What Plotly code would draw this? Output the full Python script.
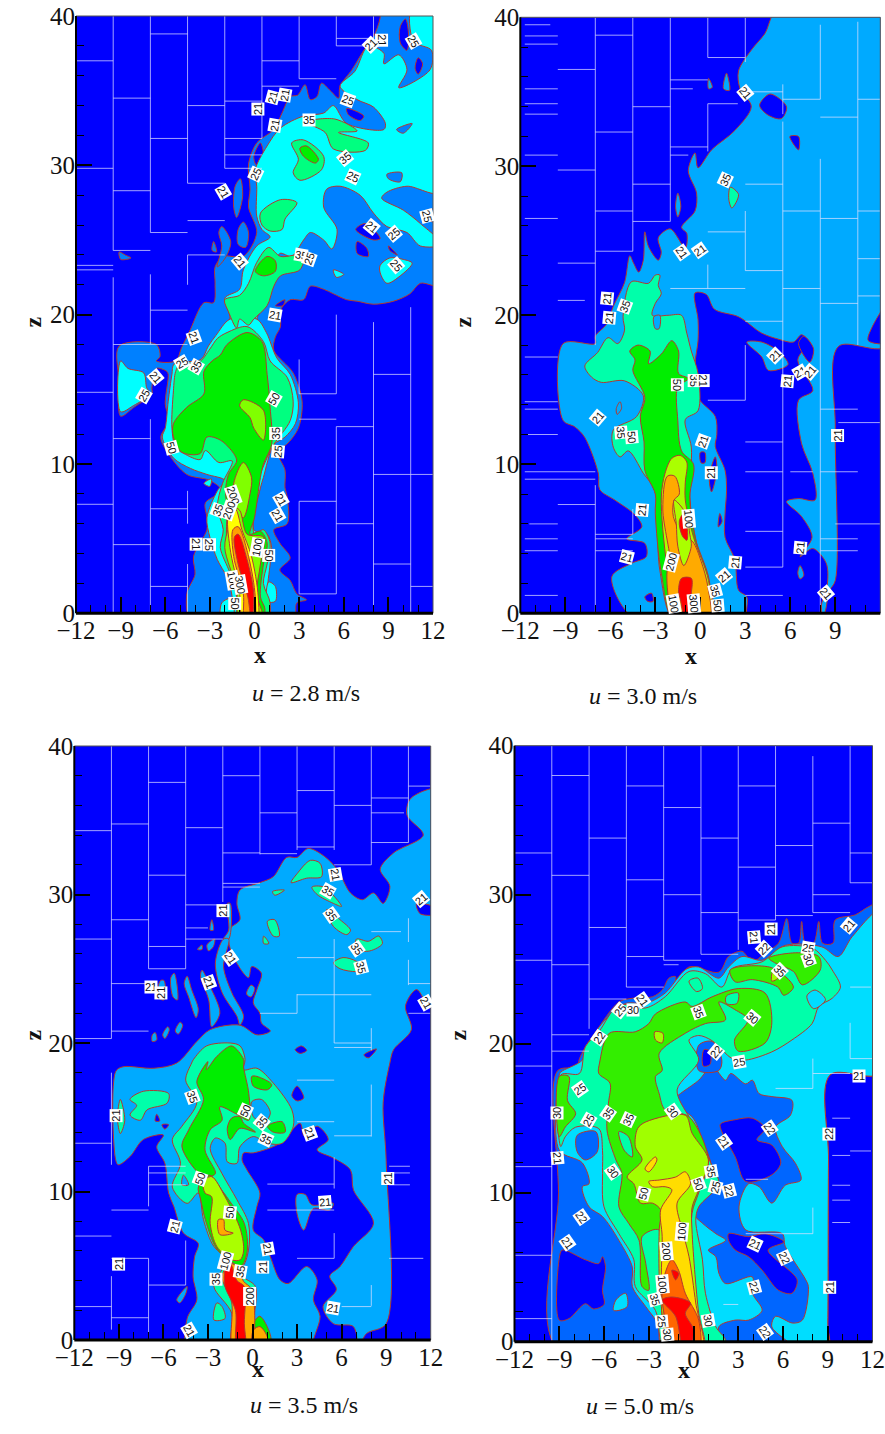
import plotly.graph_objects as go

W, H = 885, 1434
BLUE = "#0000FF"; LINE = "#B2382E"

# ---------- panel 1: u = 2.8 m/s ----------
P1_AZ_MAIN = [(-4.2,0),(-4.55,1.3),(-4,2.6),(-4.1,3.8),(-3.2,5.6),(-3.2,6.4),(-3.3,7.4),(-2.2,8.2),(-3,8.9),(-4.55,9.3),(-5.8,10.7),(-6.3,11.8),(-5.75,12.9),(-6,14),(-5.8,16),(-5.9,16.2),(-6.6,16.4),(-6.9,15.1),(-6.9,14.7),(-8.1,13.8),(-9,13.2),(-9.1,15.5),(-9.1,17.9),(-6.6,18),(-6.35,17.2),(-6.6,16.9),(-5.3,16.9),(-4.9,17.8),(-4.4,18.8),(-3.4,20.8),(-2.75,20.8),(-2.65,22.1),(-2.65,23.2),(-2.1,23.9),(-0.75,23.9),(0.15,25.5),(-0.4,27.2),(-0.3,28.4),(-0.4,30.1),(0.15,31.5),(1.3,32.4),(1.85,33.5),(2.4,34.6),(2.9,34.7),(3.4,35.4),(3.75,34.4),(4.2,34.6),(4.5,35.5),(5.1,35),(5.65,34.5),(5.75,35.3),(6.55,36.4),(7.35,37.7),(8,38.6),(8.45,39.9),(8.45,40),(12,40),(12,22),(11.15,22.1),(10.45,21.4),(9.35,20.9),(8,20.7),(6.9,20.9),(6.2,21),(5.3,21.4),(4.65,21.7),(3.75,21.9),(3.3,21),(2.4,21),(1.75,20.3),(1.75,19.2),(1.4,18.5),(1.3,17.6),(2.6,16.1),(3.2,14.2),(2.95,12.4),(2.15,11.3),(1.5,10.9),(2.05,9.6),(2.05,8.4),(2.2,7.8),(2.2,6),(1.3,5.6),(1.7,4.7),(2.4,3.7),(1.7,2.9),(2.4,2.2),(2.85,1.3),(3.5,0.9),(2.85,0.7),(2.6,0)]
P1_AZ_BITS = [
 [(-0.95,29.1),(-0.8,27.9),(-1.2,26.5),(-1.4,27.2),(-1.3,28.6)],
 [(-0.75,26.2),(-0.4,25.5),(-0.6,24.5),(-1.1,24.7),(-1.1,25.7)],
 [(-2.2,25.9),(-1.6,24.9),(-1.9,23.9),(-2.5,23.2),(-2.2,24.6),(-2.4,25.5)],
 [(-2.75,24.9),(-2.55,24.2),(-2.85,24.3)],
 [(-9.1,24.2),(-8.7,24),(-8.3,23.8),(-9,23.7)],
]
P1_HOLES = [
 [(0.4,31.5),(0.6,30.4),(0.15,30),(-0.05,30.6)],
 [(6.2,33.8),(7.35,33.3),(7.1,33),(6.3,33.4)],
 [(9.8,39.3),(10.15,39.8),(10.35,38.85),(10.25,37.7),(9.8,38.2)],
 [(11,37.2),(11.3,36.8),(11,36.1),(10.8,36.5)],
 [(6.8,25.7),(7.45,26.1),(8.45,25.1),(8,25)],
 [(6.9,24.9),(7.55,24.45),(7.65,23.9),(6.9,24.1)],
 [(9,24.6),(9.6,24),(9.1,24.3)],
 [(1.4,20.6),(2.05,21),(1.9,20.6)],
 [(1.4,24.9),(1.9,25),(2.3,25.2),(2.2,24.4),(1.7,24.4)],
]
P1_CYAN_TOP = [(-2.5,18.6),(-1.65,19.7),(-2,21.1),(-1,21.7),(-0.75,23),(0.15,24.6),(1.05,25.2),(0.5,25.7),(0.15,26.6),(0.15,28.6),(0.05,29.7),(0.85,31.3),(1.75,32.5),(3.3,33.3),(4.65,33.5),(5.3,34),(6.2,32.8),(8.7,32.4),(8.8,32.8),(8,33.9),(6.9,34.4),(5.75,35.3),(6.75,36.3),(7.65,38),(8.7,37.5),(8.7,36.8),(9.7,37.4),(10.25,36.4),(9.7,35.2),(11.8,36.4),(11.9,37.7),(10.7,38.3),(10.6,40),(12,40),(12,28.2),(10.25,28.6),(8.9,28.2),(8.55,27.8),(10,27),(11.15,26.1),(12,24.7),(11.15,24.6),(10.25,25.5),(8.9,25.9),(8,26.8),(7.1,28),(5.75,28.6),(4.85,28.4),(4.65,27.2),(5.55,25.7),(5.2,24.4),(4.65,25),(3.75,25.5),(3.3,25),(2.5,23.9),(1.7,24.1),(1.3,22.6),(0.5,21.4),(0.15,19.7),(-0.5,18.8)]
P1_CYAN_LOW = [(-1.5,0),(-1.5,1.1),(-1.85,2.4),(-2.5,3.6),(-3,5.1),(-3.2,6.4),(-2.5,8.2),(-2,8.9),(-3.2,9.3),(-4.3,9.7),(-5.45,10.4),(-6.2,11.8),(-6,12.4),(-5.8,14.2),(-5.55,16),(-5.4,16.7),(-3.6,17),(-3.1,17.9),(-2.6,18.6),(-1.65,19.7),(0.15,19.7),(0.8,18.8),(1.5,17.1),(2.4,16),(2.95,14.1),(2.75,12.7),(2.05,11.8),(1.3,11.3),(0.6,9.1),(0.4,8.4),(-0.05,5.6),(0.85,5.3),(1.15,4.4),(1.05,3.3),(0.85,1.3),(1,0)]
P1_CYAN_BITS = [
 [(-9,16.9),(-8.5,16.4),(-7.45,16.1),(-7.25,15.1),(-7,14.7),(-8.15,13.9),(-9,13.5)],
 [(8.45,23.3),(9.1,23.8),(10,23.7),(10.6,23.45),(9.8,22.6),(8.9,22.1),(8.45,22.8)],
 [(5.3,23),(6,22.7),(5.5,22.5)],
 [(-2.2,0.7),(-1.5,1),(-1.5,0),(-2.2,0)],
 [(0.95,2.1),(1.4,1.8),(1.4,0.8),(0.85,0.8)],
 [(-3.4,8.7),(-2.9,9),(-3,8.5)],
]
P1_AZ_PATCH = [
 [(8.9,29.4),(9.9,29.5),(9.8,28.9),(9,29.1)],
 [(9.55,32.4),(10.6,32.8),(10,32.15)],
 [(11.4,26.9),(12,27),(12,26.1),(11.6,26.4)],
]
P1_SP = [
 [(3.5,32.9),(5.4,33.1),(6.9,32.3),(5.65,32.2),(7.65,31.5),(7.45,31),(5.3,31.1),(4.75,32.2)],
 [(2.5,31.5),(3.3,31.7),(4.65,30.6),(4.5,29.7),(3.05,29),(2.6,29.5),(2.95,30.4)],
 [(0.4,26.8),(1.75,27.7),(2.85,27.5),(2.05,26.4),(1.85,25.7),(1.05,25.6),(0.5,26)],
 [(-2,21),(-1,21.3),(-0.4,22.1),(0.15,23.5),(0.95,24.5),(1.75,23.9),(3.3,24),(3.05,23),(1.75,22.6),(1.3,21.9),(0.85,20.6),(-0.05,19.7),(-0.4,19.3),(-1,19.7),(-1.2,19.1),(-1.75,20.2)],
 [(-1,0),(-1.2,1.1),(-1.65,2.7),(-2.3,4.4),(-2.1,5.6),(-2.5,7.1),(-2.15,8.7),(-1.5,10.2),(-2.4,10.1),(-3.3,10.9),(-3.65,10.3),(-4.75,10.7),(-5.3,11.1),(-5.55,12.4),(-5.45,14.9),(-5.3,16.2),(-5,16.7),(-3.75,16.8),(-3,17.7),(-2.5,18.4),(-1.85,18.8),(-0.5,19.2),(0.6,18.2),(1.05,16.9),(2.2,15.8),(2.6,14.2),(2.4,12.9),(1.3,11.3),(0.5,9.6),(0.15,8.4),(0,5.3),(0.6,5.6),(1.05,4.7),(0.85,3.3),(0.6,2),(1.05,0.7),(0.85,0)],
]
P1_GR = [
 [(3.05,31.15),(3.5,31.3),(4.3,30.4),(4.1,30.15),(3.3,30.6)],
 [(0.05,22.9),(0.85,23.9),(1.4,23.6),(1.4,22.9),(0.6,22.6)],
 [(-0.4,0),(-1.2,2.2),(-1.85,4.4),(-1.85,7.1),(-1.95,8.2),(-1.75,9.3),(-1.2,10.2),(-1.4,10.7),(-2.3,11.6),(-3.2,11.8),(-3.65,10.7),(-4.9,10.8),(-5.45,11.8),(-5.45,12.7),(-4.55,13.8),(-3.4,14.7),(-3.4,16.2),(-2.85,16.9),(-2.3,17.3),(-1.85,18),(-0.5,18.8),(0.5,18.2),(0.85,16),(1.05,13.8),(1.15,11.3),(0.6,10),(0.4,9.1),(0,6.4),(-0.3,5.3),(0.4,5.5),(0.85,4.7),(0.6,3.3),(0.4,1.1),(0.7,0.3),(0.5,0)],
]
P1_LIME = [
 [(-1,13.9),(-0.75,14.3),(0.6,13.6),(0.6,11.6),(-0.05,12.4),(-0.3,13.1)],
 [(-0.75,10.1),(-0.2,9.1),(-0.3,8),(-0.75,6.4),(-1.3,7.3),(-1.4,8.7)],
 [(-1.45,7.1),(-1,6.9),(-0.5,5.3),(0.6,5.1),(0.4,3.3),(0.15,1.3),(0.6,0),(-1,0),(-1.2,1.6),(-2,4.4),(-1.75,5.8)],
]
P1_YEL = [[(-1.75,6.6),(-1.3,7),(-0.85,5.6),(-0.2,3.8),(0.25,1.1),(0.15,0),(-0.75,0),(-1,1.3),(-1.65,4.4)]]
P1_ORA = [[(-1.45,5.6),(-1.1,5.8),(-0.4,3.8),(0.05,1.1),(-0.05,0),(-0.65,0),(-0.75,1.3),(-1.4,3.8)]]
P1_RED = [[(-1.35,5.1),(-1.1,5.3),(-0.5,3.6),(-0.05,1.3),(-0.2,0),(-0.45,1.1),(-1.1,3.3)]]

# ---------- panel 2: u = 3.0 m/s ----------
P2_AZ_MAIN = [(-4.15,0),(-5.9,2.45),(-4.6,3.35),(-3.6,3.8),(-3.7,4.7),(-4.9,5),(-3.9,5.8),(-4.35,6.6),(-5.7,7.6),(-6.7,8.3),(-6.8,9.4),(-7.7,11.8),(-8.35,12.5),(-9.15,12.95),(-9.15,18.1),(-7,18.1),(-7,18.6),(-6.25,19.4),(-5.8,20.6),(-5.05,22.2),(-4.7,24),(-4.45,23.5),(-4.1,22.9),(-3.8,23.7),(-3.7,25.6),(-3.45,24.6),(-2.8,23.7),(-2.6,24.2),(-2.8,25.2),(-2,25.8),(-1,24.5),(-0.9,25.5),(-1.25,25.9),(-0.35,27),(-0.25,28.2),(-0.8,29.7),(-0.35,30.9),(-0.15,29.9),(0.75,31.1),(2.3,32.4),(3.4,34),(2.65,35.2),(2.55,36.4),(3.4,37.8),(4.3,38.9),(5.2,40),(12,40),(12,18),(9.2,17.9),(9,12.3),(9,2.2),(8.6,1.5),(7.9,0)]
P2_HOLES = [
 [(-0.35,21.5),(0.4,21.4),(0.95,20.4),(2.55,19.9),(4.1,18.8),(5.2,18.4),(6.2,18.2),(6.75,18.7),(7.2,18.2),(6.5,17),(7.5,14.95),(6.55,14.3),(6.75,11.4),(7.5,9.4),(7.65,7.6),(6.55,7.7),(5.75,7.5),(6.75,6.5),(7.45,5.1),(6.65,3.8),(7.5,4.35),(8.4,3.35),(8.45,1.8),(8.1,0.7),(7.9,0),(3.2,0),(3.1,1.1),(2.55,1.55),(2.3,3.6),(1.65,5.1),(1.65,6.7),(1.75,8.25),(1.65,9.6),(1,11.2),(1.1,12),(1,13.2),(-0.15,14.5),(-0.35,16.7),(-0.15,18.3),(-0.15,19.7)],
 [(3.95,34.1),(4.65,34.85),(5.75,34),(5.4,33.2),(4.5,33.45)],
 [(5.97,32),(6.55,32),(6.55,31.1)],
 [(12,20.9),(11.45,19.2),(11.2,18.3),(12,18.2)],
 [(6.55,18.1),(6.9,18.6),(7.55,17.75),(7.3,16.85)],
 [(1.3,6.7),(1.45,6.15),(1.2,5.8)],
 [(0,10.8),(0.3,10.8),(0.3,10.1),(0.05,10.1)],
 [(1,10.5),(1.1,9.6),(0.75,8.15),(0.6,9.15)],
 [(-3.7,1.1),(-3.25,1.35),(-3.15,0.8),(-3.5,0.8)],
]
P2_AZ_ISLES = [
 [(3.1,18.2),(4.1,18.2),(5.2,17.6),(5.85,16.7),(4.55,16.3),(4.1,17.2)],
 [(6.65,3.2),(6.9,2.55),(6.65,2.3),(6.5,2.7)],
 [(0.55,35.9),(0.8,35.3),(0.55,35.2)],
 [(1.75,36.25),(1.95,35.1),(1.55,35.2)],
 [(-1.5,28.2),(-1.3,27.3),(-1.5,26.6),(-1.65,27.3)],
]
P2_SP = [
 [(-1.7,0),(-2.7,2.9),(-3.05,8.25),(-3.8,9.4),(-4.8,10.9),(-5.35,10.5),(-5.8,11.15),(-5.8,12.3),(-4.25,13.2),(-3.8,14.6),(-5.05,15.6),(-6.6,15.5),(-7.25,15.85),(-7.7,16.6),(-6.85,17.5),(-6.15,18.5),(-5.5,18.1),(-5.05,19),(-5.15,19.9),(-4.6,22.25),(-3.45,22.15),(-3,22.7),(-2.7,22.7),(-2.8,22),(-2.6,21.45),(-3,20.8),(-3.2,20),(-2.15,20),(-1.25,20),(-0.9,18.8),(-0.6,17.6),(-0.15,16.1),(-0.15,13.6),(-1,13),(-0.6,11.15),(-0.7,7.8),(-0.25,4.7),(0.75,1.35),(0.9,0)],
 [(2.0,28.6),(2.55,28.1),(2.1,27.2),(1.9,27.8)],
]
P2_AZ_PATCH = [
 [(-5.6,13.75),(-5.35,14.2),(-5.25,13.75),(-5.55,13.35)],
 [(-3.1,19.9),(-2.7,20),(-2.75,19.1),(-3.0,19.1)],
]
P2_GR = [[(-1.7,0),(-2.6,2.7),(-3,6.7),(-3,8),(-3.7,9.6),(-3.75,11.5),(-4,13.2),(-3.7,14.5),(-4.5,16.3),(-4.35,17),(-4.7,17.6),(-4.15,18),(-3.35,17.6),(-3.45,16.75),(-2.6,17.4),(-1.9,18.3),(-1.45,17.6),(-1.45,16.1),(-0.8,15.75),(-1.5,15.2),(-1.5,12.95),(-1.25,10.9),(-0.45,10),(-0.7,7.8),(-0.35,5.1),(0.55,2.45),(0.75,0.45),(0.75,0)]]
P2_LIME = [[(-1.9,10.4),(-1.35,10.6),(-0.9,10.15),(-1,8.8),(-1,7.6),(-0.45,5.1),(0.55,2.2),(0.65,0),(-1.6,0),(-1.8,1.1),(-2.25,3.35),(-2.6,7.8),(-2.35,9.4)]]
P2_ORA = [[(-2.2,9.2),(-1.7,9.2),(-1.4,8),(-1.75,7.6),(-1.8,6.5),(-1.2,5.3),(-0.5,4.8),(0.05,3.5),(0.5,1.8),(0.6,0),(-1.6,0),(-2.2,2.9),(-2,3.2),(-2.5,7)]]
P2_LIME2 = [[(-1.75,7.6),(-1.3,7.2),(-0.9,6.5),(-0.7,5.3),(-0.6,4.5),(-1.1,3.2),(-1.5,4.5),(-1.6,6)]]
P2_RED = [
 [(-1.4,6.2),(-1.1,6.7),(-0.85,5.5),(-0.9,4.9),(-1.2,5.2)],
 [(-1.25,2.35),(-0.6,2.35),(-0.6,1.35),(-0.8,0.2),(-1,0),(-1.3,0.8),(-1.45,1.5)],
]

# ---------- panel 3: u = 3.5 m/s ----------
P3_AZ_MAIN = [(-4.3,0),(-4.4,1.45),(-3.75,2.7),(-4,4.25),(-3.9,5.6),(-3.65,6.5),(-4.65,7.2),(-5.3,9),(-5.65,9.9),(-5.9,11.9),(-6.45,13),(-6,13.8),(-7.35,13.5),(-8.25,12.35),(-9.05,11.8),(-9.25,12.35),(-9.2,18.1),(-8.7,18.4),(-6.65,18.3),(-5.1,18.65),(-3.75,20.1),(-2.85,20.9),(-0.85,21.2),(0.3,20.55),(1.2,20.8),(0.6,21.35),(0.5,22),(0.05,22.7),(0.3,23.6),(0.6,24.7),(-0.05,25.15),(-0.27,24.4),(-1.4,26.05),(-1.6,27.6),(-0.85,28.3),(-1.05,29.4),(-0.85,30.3),(0.5,30.8),(1.4,31.2),(2.3,32.5),(3,32.5),(3.75,33.1),(4.8,32.6),(5.7,31.7),(6.6,30.1),(7.4,29.65),(8.15,30.1),(8.8,29.4),(9.25,30.55),(8.6,31.7),(9.5,32.8),(11.5,34),(10.4,35.35),(10.6,36.4),(11.75,37.05),(12,37.1),(12,23),(11.9,22.5),(11.05,23.6),(10.3,22.5),(10.7,20.9),(9.5,19.55),(9.25,18.65),(8.8,16),(9,12.1),(9,1.1),(7.7,0.45),(6.9,0)]
P3_AZ_BITS = [
 [(-1.95,27),(-1.6,27),(-1.5,29.4),(-1.7,29.4),(-1.6,27.6)],
 [(-2.5,25.4),(-2.05,23.4),(-1.05,21.8),(-0.85,21.2),(-0.6,21.8),(-1.4,23.4),(-1.95,25.15),(-1.6,27),(-1.95,27)],
 [(-3.4,24.9),(-2.85,23.8),(-2.2,22),(-2.75,21.1),(-2.95,22.9),(-3.5,24.5)],
 [(-5.27,24.7),(-5.05,22.9),(-5.35,23.1),(-5.5,24.4)],
 [(-4.4,24.5),(-4.1,23.6),(-3.65,22.25),(-3.8,21.7),(-4.3,23.1),(-4.6,24)],
 [(-6.2,24.2),(-5.95,24.2),(-5.95,22.9),(-6.4,23.1)],
 [(-2.74,28.3),(-2.63,27.6),(-2.85,27.6)],
 [(-2.55,27),(-2.63,26.5),(-2.96,26.2),(-3.07,26.6)],
 [(-3.7,26.3),(-3.4,26.6),(-3.4,26.3)],
 [(-4.87,21.4),(-4.7,21.2),(-5,20.6),(-5.2,20.8)],
 [(-5.7,21.1),(-5.6,20.9),(-5.9,20.3),(-6.05,20.55)],
 [(-6.55,20.7),(-6.45,20.2),(-6.75,20.1),(-6.75,20.55)],
 [(-0.4,23.3),(-0.1,23.9),(0.15,23.7),(-0.1,23.1)],
 [(-5.1,2.7),(-4.4,3.6),(-4.5,3.1),(-4.9,2.5)],
]
P3_HOLES = [
 [(-0.7,12.1),(-0.6,12.6),(0.05,12.6),(1.85,13.25),(3.2,14.6),(3.5,13.7),(4.35,14.4),(5.1,13.5),(4.35,12.8),(5.45,12.25),(6.6,11.45),(6.8,10.1),(8.15,7.85),(6.8,6.3),(5.9,4.95),(5.2,4.3),(5.65,3.4),(4.75,2.25),(5.45,1.1),(6.8,0.9),(6.9,0),(4.1,0),(4.55,1.6),(4.1,2.7),(4.35,4.05),(3.65,4.95),(2.4,3.8),(1.85,4.05),(1.2,5.6),(0.75,6.75),(0.05,7.4),(0.3,9),(0.5,9.9),(-0.4,11.5)],
 [(11.05,29.4),(12,29),(12,28.7),(11.3,28.7)],
 [(2.87,19.55),(3.3,19.8),(3.65,19.5),(3.2,19.3)],
 [(7.5,19.2),(8.35,19.6),(7.8,19)],
 [(3,17.1),(3.45,16.3),(3,16.1),(2.65,16.45)],
 [(-6.45,15.2),(-6.25,14.75),(-6.55,14.75)],
 [(-6.1,14.5),(-5.65,14.5),(-5.9,14.2)],
]
P3_AZ_ISLES = [[(3,9.8),(3.55,9.8),(4,9.1),(5.45,9.2),(5.2,8.75),(4.1,8.85),(3.45,7.4),(3,8.5)]]
P3_SP = [
 [(-3.97,18.9),(-3.1,19.8),(-1.5,20),(-0.83,19.8),(-0.5,18.9),(-0.6,18.2),(0.3,18.3),(1.4,17.3),(2.65,15.5),(2.75,14.4),(2,13.25),(1,13.25),(0.05,13.7),(-0.85,13),(-1.05,11.9),(-1.7,12),(-1.85,13.25),(-2.5,13.6),(-2.85,12.9),(-2.05,11.2),(-1.05,9.45),(-0.27,7.85),(-0.27,6.05),(-0.7,4.95),(-1.5,5.4),(-2.6,6.3),(-3.3,8.1),(-3.65,9.9),(-4.4,9.2),(-5.4,10.3),(-4.85,11.9),(-5.4,13.5),(-4.75,14.4),(-3.75,16),(-4.5,17.5),(-4.1,18.65)],
 [(-2.4,2.5),(-2.05,2.25),(-1.85,1.45),(-2.6,1.35)],
 [(-8.25,16.2),(-7.35,16.75),(-5.65,16.6),(-5.75,15.95),(-7.1,15.5),(-7.55,14.8),(-8.25,15.15),(-7.8,15.8)],
 [(-8.9,16.2),(-8.6,14.8),(-8.9,13.9),(-9.1,15)],
 [(3,31.4),(3.9,32.3),(4.55,32.1),(4.65,31.2),(3.65,31.1),(2.6,30.8)],
 [(4,30.5),(4.8,30.5),(6,29.2),(5.45,29.4),(4.35,30)],
 [(5,29),(5.9,28.3),(6.6,27.6),(6.35,27.3),(5.45,27.85)],
 [(7,27),(7.8,26.85),(8.5,27.2),(8.75,26.7),(7.9,26.2),(7,26.3)],
 [(5.45,25.4),(6.1,25.75),(7,25.5),(7.6,24.9),(7,24.8),(5.9,25)],
 [(1,28.2),(1.5,28.3),(1.8,27.2),(1.4,27.2)],
 [(0.75,27.2),(1.1,26.7),(0.75,26.7)],
 [(1.35,30.2),(2.15,30.3),(1.5,29.95)],
 [(-2.2,4.5),(-2.6,3.6),(-1.4,1.8),(-1.4,0),(0,0),(0.05,1.1),(0.2,3.6),(-0.7,4.3),(-0.95,4.95),(-1.5,5.3)],
]
P3_AZ_PATCH = [
 [(-0.05,16.05),(0.6,16.2),(1.2,15.3),(0.75,14.6),(0.05,15.05)],
 [(-4.65,11.1),(-4.3,10.45),(-4.75,10.45)],
]
P3_GR = [
 [(-3.1,18.2),(-2.4,19.1),(-1.4,19.8),(-0.6,18.9),(-0.6,18.4),(-0.25,16.6),(-0.25,14.8),(-1.05,15.2),(-2.2,15.7),(-2.05,14.8),(-2.85,14.15),(-3.2,12.8),(-2.5,11.2),(-3.3,11),(-4.75,13),(-4.3,14.15),(-3.3,16.2),(-3.75,17.4),(-3,18.75)],
 [(-1.4,14.95),(-0.85,15.05),(-0.6,14.6),(0.2,14),(-0.85,14.25),(-1.5,13.5),(-1.7,14.25)],
 [(-0.05,17.75),(0.3,17.75),(1.3,17.2),(1,16.85),(0.05,17.1)],
 [(1,14.4),(2,14.7),(2.2,14),(1.4,14)],
 [(0.05,1.1),(0.5,1.6),(1.2,0.35),(1.2,0),(0.05,0)],
 [(-3.65,10.3),(-2.9,11.1),(-2,10),(-1.5,9.3),(-0.55,7.85),(-0.35,6),(-0.75,5),(-1.5,5.3),(-2.45,6.2),(-3.15,8),(-3.5,9.5)],
]
P3_LIME = [[(-3.3,10.7),(-2.75,11),(-1.85,9.65),(-0.8,7.4),(-0.6,6),(-0.83,5.4),(-1.4,5.4),(-2.4,6.3),(-2.85,7.85),(-2.75,9.65),(-3.2,9.9)]]
P3_ORA = [
 [(-2.3,8.1),(-1.95,8.1),(-1.85,7.4),(-1.3,7.2),(-2.2,7.1)],
 [(-2.05,4.3),(-1.4,2.5),(-1.3,0),(-0.15,0),(-0.05,3.4),(-0.6,3.95),(-1.0,4.9),(-1.5,5.15)],
 [(0.05,0.65),(0.5,0.9),(1,0.2),(1,0),(0.05,0)],
]
P3_RED = [[(-1.85,4.7),(-1.5,5.15),(-1.05,4),(-0.55,3.6),(-0.55,1.1),(-0.5,0),(-1.05,0),(-1.15,2),(-1.85,3.6)]]

# ---------- panel 4: u = 5.0 m/s ----------
P4_AZ_MAIN = [(-9.05,0),(-9.05,10),(-9.1,18.2),(-7.45,18.35),(-7.7,18.7),(-7.35,19.6),(-6.55,20.8),(-5,22.8),(-4.1,23.05),(-2.75,23.15),(-2.1,23.6),(-1.65,24.4),(-1.2,24.5),(-1.3,23.8),(-0.3,25.15),(1.7,24.8),(2.35,25.85),(3.25,26.2),(3.95,25.5),(4.8,26.1),(5.7,26.75),(6.25,28.4),(6.6,26.75),(7.05,26.75),(7.25,28.2),(7.5,26.75),(8.05,26.75),(8.4,28.2),(8.65,26.75),(9.35,26.75),(9.5,28.3),(10.85,28.65),(11.75,29.2),(12,29.5),(12,18.05),(9.15,17.9),(9.05,12.2),(9,1.2),(8.95,0)]
P4_SKY = [(-9,12.85),(-7.45,12),(-7,10.6),(-7.45,10.4),(-7,9.05),(-6.1,8.4),(-5,6.8),(-4.1,5),(-4.1,3.7),(-3.2,2.35),(-2.4,1.2),(-2,0),(8.95,0),(9,1.2),(9.05,12.2),(9.15,17.9),(12,18.05),(12,29),(10.65,27.2),(9.7,25.85),(8.6,26.5),(6.15,26.6),(4.6,25.6),(3.25,25.85),(2.35,25.15),(1.7,24.4),(0.35,25.15),(-0.5,25),(-1.9,23.4),(-3.2,22.7),(-4.55,22.7),(-6.1,21.4),(-7,20),(-7.45,18.9),(-8.9,18.1),(-9,17.9)]
P4_AZ_PATCH = [
 [(0,8.6),(0.35,9.5),(1.25,11.3),(0.6,13.55),(-0.1,15.1),(-1.45,16),(0.35,17.55),(1.25,18.45),(2.15,17.55),(2.5,18),(3.5,17.3),(3.95,17.55),(4.4,16.65),(5.25,16.45),(6.6,16.2),(6.5,15.2),(5.5,14.4),(5.95,13.1),(6.85,11.95),(7.2,10.85),(6.15,10.5),(5.25,9.3),(4.4,10.4),(3.7,10.6),(3.05,9.05),(3.5,7.5),(5.95,7.25),(6.15,6.4),(7.5,4.2),(7.7,3.7),(7.3,1.45),(6.65,1.25),(5.5,1.7),(5.25,1),(6.85,0),(2.15,0),(1.7,1),(2.8,1.45),(3.7,1.45),(4.6,2.1),(3.95,3.25),(3.95,4.35),(2.15,3.9),(1.7,4.6),(1.5,5.7),(1,6.15),(2.15,6.8),(1.5,7.25),(0.6,7.95)],
 [(0.35,19.9),(1.25,20.15),(1.9,18.9),(1.7,18.2),(0.35,18.2)],
 [(-7.8,13.85),(-6.55,14.1),(-6.45,12.75),(-7.25,12.2),(-7.8,12.75)],
]
P4_SKY_BITS = [[(-5.2,2.8),(-4.55,3.25),(-4.45,2.35),(-5.35,2.1)]]
P4_HOLES = [
 [(1.8,14.6),(2.8,14.9),(3.95,15),(4.8,14.3),(4.25,13.55),(5.25,13.2),(5.85,12),(5.25,11.2),(3.5,10.75),(2.8,12.4),(1.9,14.1)],
 [(2.35,7.25),(3.7,7.05),(4.8,7.25),(6.05,6.7),(5,6.15),(6.95,4.15),(6.6,3.25),(5.7,3.45),(4.6,4.8),(3.7,5.7),(2.8,6.15),(2.35,6.8)],
 [(-8.8,6.15),(-7.25,5.5),(-6.35,5.25),(-6.1,5.7),(-5.9,5.05),(-6.1,3.45),(-6,2.5),(-6.7,2.2),(-7.25,2.55),(-8.35,1.55),(-9,1.45),(-9,5.6)],
 [(0.7,19.6),(1.1,19.5),(1.1,18.6),(0.65,18.5)],
]
P4_SP = [
 [(-8.9,17.9),(-7.65,18),(-7.25,19.8),(-6.35,20.8),(-5,22.6),(-3.2,22.4),(-1.9,23.15),(-0.3,24.85),(0.8,24.7),(1.9,23.8),(2.6,25.05),(4.6,25.5),(5.95,26.5),(8,26.4),(8.85,25.6),(9.3,24.95),(9.85,23.8),(9.3,23.05),(8.4,22.5),(7.95,21.35),(6.6,20.25),(5.25,19.45),(3.5,18.9),(2.6,19),(1.25,20.2),(0.35,20.55),(-0.3,20.25),(0.35,18.9),(-1.1,16.9),(-0.3,15.1),(0.15,14.4),(1.25,11.75),(1.7,10.6),(0.35,9.05),(0.15,8.15),(0.6,5.5),(0.8,3.25),(1.5,1),(2.15,0.1),(1.9,0),(-1.9,0),(-2.55,2.1),(-3.9,3.7),(-4,5.5),(-5,7.25),(-6,9.05),(-6.1,11.3),(-6.1,12.85),(-6.35,14.3),(-7.9,14.4),(-8.6,13.75),(-8.9,13.1)],
]
P4_SKY_ON_SP = [[(7.6,23.2),(8.15,23.6),(8.85,22.95),(8.05,22.35)]]
P4_GR = [
 [(-6.3,18.7),(-5.65,20.7),(-3.9,20.8),(-3,21.35),(-2.55,22),(-0.55,22.8),(-0.1,22.5),(1.25,23.15),(3,23.7),(4.8,23.4),(5.25,21.4),(4.8,20.05),(3,19.5),(2.75,20.25),(3.65,21.6),(2.75,22.3),(1.7,22.8),(2.15,21.6),(0.8,21.35),(-0.55,20.7),(-2.3,19.35),(-2.1,18.2),(-2.55,17.8),(-2.3,16.65),(-1.9,15.55),(-0.3,15.1),(1,12.2),(0.35,10),(-0.1,8.6),(0,4.35),(0.35,1),(0.6,0),(-1.45,0),(-2.1,1.7),(-2.3,7.5),(-3.45,7.05),(-3.2,5.25),(-3,3.45),(-3.45,3.7),(-3.65,6.8),(-4.35,7.95),(-5,9.05),(-4.8,11.3),(-5.2,12.2),(-5.8,14.2),(-5.7,16),(-5.6,17.35),(-6.35,18)],
 [(2.45,24.95),(5.25,25.1),(6.7,23.8),(6.05,23.25),(5.65,23.8),(3.95,24.3),(2.8,24.15)],
 [(5.05,25.75),(6.85,26.1),(8.4,25.85),(8.5,24.95),(7.3,23.95),(6.7,24.85),(5.5,25.4)],
 [(-9,17.8),(-8.35,17.8),(-8.45,16.2),(-7.9,15.3),(-8.6,14.4),(-9,13.75)],
]
P4_SP_ON_GR = [[(-5,14.1),(-4.35,13.75),(-4.1,12.4),(-4.65,12.85)],[(-0.3,24.2),(0.3,24.4),(0.6,23.7),(0.2,23.5)],[(2.2,23.2),(3,23.4),(2.9,22.7),(2.2,22.7)]]
P4_LIME = [
 [(-3.2,14.75),(-0.55,15.2),(-0.1,14),(1,12.2),(0.35,10.2),(-0.1,9),(-0.1,7.5),(0.1,4.5),(0.35,1.9),(0.7,0),(-1.45,0),(-2.2,2.8),(-2.3,7.5),(-2.2,8.85),(-2.75,9.3),(-3.55,9.3),(-4,10.6),(-4.45,11.05),(-3.45,12.2),(-3.9,13.1),(-3.75,14.3)],
 [(-2.6,20.8),(-2.05,20.7),(-2.1,20.05),(-2.55,20.25)],
 [(5.3,24.8),(5.65,24.4),(5.25,24.2)],
]
P4_YEL = [
 [(-3,10.75),(-2.3,10.85),(-1.2,11.05),(-0.55,11.4),(-0.2,10.6),(-1.1,9.3),(-0.75,7.5),(-0.3,5.7),(0.15,2.6),(0.6,0),(-1.2,0),(-2.1,2.8),(-2.1,7.05),(-2.2,8.85),(-1.45,10.2),(-1.9,10.4),(-2.75,10.4)],
 [(-2.55,12.4),(-2.45,12.2),(-3,11.4),(-3.25,11.6)],
]
P4_ORA = [[(-1.45,5.5),(-1,4.8),(-0.55,3.25),(0.35,1.45),(0.35,0),(-1.1,0),(-2.1,2.8),(-1.9,4.6)]]
P4_RED = [
 [(-1.45,4.8),(-1,4.6),(-1.2,4.15)],
 [(-2.1,2.8),(-1.45,3),(-0.2,2.6),(-0.55,1.9),(0,0.8),(-0.3,0),(-0.65,0),(-1.2,1.7)],
]

# palette per level
AZ1, CY1, SP1, GR1, LI1, YE1, OR1, RE1 = "#0080FF", "#00FFFF", "#00FF80", "#00EE00", "#80FF00", "#FFFF00", "#FFA000", "#FF0000"
AZ2, SP2, GR2, LI2, OR2 = "#00AAFF", "#00FFAA", "#00EE00", "#AAFF00", "#FFAA00"
AZ4, SK4, SP4, GR4, LI4, YE4, OR4 = "#0066FF", "#00DDFF", "#00FFAA", "#33EE00", "#A0FF00", "#FFDD00", "#FF6600"

LAYERS = [
 [(AZ1,[P1_AZ_MAIN]+P1_AZ_BITS),(BLUE,P1_HOLES),(CY1,[P1_CYAN_TOP,P1_CYAN_LOW]+P1_CYAN_BITS),(AZ1,P1_AZ_PATCH),(SP1,P1_SP),(GR1,P1_GR),(LI1,P1_LIME),(YE1,P1_YEL),(OR1,P1_ORA),(RE1,P1_RED)],
 [(AZ2,[P2_AZ_MAIN]),(BLUE,P2_HOLES),(AZ2,P2_AZ_ISLES),(SP2,P2_SP),(AZ2,P2_AZ_PATCH),(GR2,P2_GR),(LI2,P2_LIME),(OR2,P2_ORA),(LI2,P2_LIME2),(RE1,P2_RED)],
 [(AZ2,[P3_AZ_MAIN]+P3_AZ_BITS),(BLUE,P3_HOLES),(AZ2,P3_AZ_ISLES),(SP2,P3_SP),(AZ2,P3_AZ_PATCH),(GR2,P3_GR),(LI2,P3_LIME),(OR2,P3_ORA),(RE1,P3_RED)],
 [(AZ4,[P4_AZ_MAIN]),(SK4,[P4_SKY]+P4_SKY_BITS),(AZ4,P4_AZ_PATCH),(BLUE,P4_HOLES),(SP4,P4_SP),(SK4,P4_SKY_ON_SP),(GR4,P4_GR),(SP4,P4_SP_ON_GR),(LI4,P4_LIME),(YE4,P4_YEL),(OR4,P4_ORA),(RE1,P4_RED)],
]

# mesh-block edges: (x, z_low, z_high) and (x_low, x_high, z)
P1_V = [(-9.5,24.3,40),(-9.5,0,22.5),(-7,25.5,40),(-7,18,22.7),(-7,0,13),(-4.5,28.8,40),(-4.5,22,24),(-4.5,6,8.2),(-4.5,0,3.3),(-2,29.8,40),(0.5,31.8,40),(3,35.8,40),(3,14.7,17),(3,1.3,7.5),(5.5,38,40),(5.5,14.7,20),(5.5,1.3,12.5),(8,38.5,40),(8,0,19.5),(10.5,0,20.5)]
P1_H = [(-12,-9.5,37),(-12,-9.5,29.8),(-12,-9.5,23.3),(-12,-9.5,23),(-12,-9.5,14.8),(-12,-9.5,7.3),(-9.5,-7,34.5),(-9.5,-7,28.3),(-9.5,-7,24.3),(-9.5,-7,18),(-9.5,-7,11.7),(-9.5,-7,4.6),(-7,-4.5,38.8),(-7,-4.5,31.8),(-7,-4.5,25.5),(-7,-4.5,20.3),(-7,-4.5,18),(-7,-4.5,7),(-7,-4.5,1.8),(-4.5,-2,34),(-4.5,-2,28.8),(-4.5,-2,26.3),(-4.5,-2,24),(-2,0.5,34.3),(-2,0.5,31.8),(-2,0.5,30.7),(-2,0.5,29.8),(0.5,3,37),(0.5,3,35.3),(3,5.5,35.8),(3,5.5,14.7),(3,5.5,13),(3,5.5,7.5),(3,5.5,1.3),(5.5,8,38.5),(5.5,8,38),(5.5,8,12.5),(5.5,8,6),(8,10.5,16),(8,10.5,9.3),(8,10.5,3.3),(10.5,12,9.3),(10.5,12,1.8)]
P2_V = [(-7,18,40),(-7,0,8.6),(-4.5,24.3,40),(-4.5,5.3,7),(-2,26.3,40),(0.5,37.3,40),(0.5,31,34.2),(0.5,21.8,23.4),(3,37,40),(3,23,27),(3,14.3,18),(5.5,33.5,35.5),(5.5,3.1,33),(8,34.5,39.5),(8,0,30.5),(10.5,18,39.7)]
P2_H = [(-11.7,-10,39.5),(-11.7,-9.5,38.75),(-11.7,-9.5,38.2),(-11.7,-9.5,35.2),(-11.7,-9.5,34.2),(-11.7,-9.5,33.5),(-11.7,-9.5,30.75),(-11.7,-9.5,26.5),(-9.5,-7,36.5),(-9.5,-7,29.75),(-9.5,-7,23.5),(-9.5,-7.7,21),(-7,-4.5,38.8),(-7,-4.5,32.3),(-7,-4.5,27),(-7,-4.5,24.3),(-4.5,-2,34),(-4.5,-2,28.8),(-4.5,-2,26.3),(-2,0.5,35.8),(-2,-0.5,35.2),(-2,0.5,31.3),(-2,-0.8,30.75),(0.5,3,37.3),(0.5,2.5,34.2),(0.5,3,25.6),(-2,3,21.8),(3,5.5,35),(3,5.5,28.8),(3,5.5,23),(3,5.5,19.6),(5.5,8,34.5),(5.5,8,27),(5.5,8,21.8),(8,10.5,33.3),(8,10.5,26.5),(8,10.5,20.8),(10.5,12,34.5),(10.5,12,27),(10.5,12,23.8),(10.5,12,21.3),(-11.7,-9.5,17.2),(-11.7,-9.5,14.2),(-11.7,-9.5,13.7),(-11.7,-9.5,12),(-11.7,-7,9.5),(-11.7,-7,9),(-9.5,-7,7.3),(-11.4,-9.5,6),(-11.7,-9.5,5),(-11.7,-9.5,4.2),(-7,-4.5,5.3),(-7,-4.5,5),(-7,-4.5,4.2),(-11.7,-9.5,1.2),(0.5,3,14.3),(3,5.5,11.5),(3,5.5,5.5),(3,5.5,3.1),(3,5.5,1.2),(3,5.5,9.5),(6,7.5,9.5),(8,10.5,13.7),(8,10.5,9.5),(8,10.5,5),(8,10.5,4.2),(9,12,6),(9.2,12,12.8)]
P3_V = [(-9.5,20.3,40),(-9.5,11.8,18),(-9.5,0.7,4.3),(-7,25,40),(-7,9,11.7),(-7,0,5.5),(-4.5,25,40),(-4.5,3.7,6.7),(-2,29.5,40),(0.5,32.7,40),(3,33,40),(3,22,23.3),(5.5,33,40),(5.5,20,27),(5.5,5.5,7.2),(5.5,10.2,12.3),(8,32,40),(8,19.5,21),(8,13.7,17.2),(8,2.3,3.7),(10.5,33.5,40),(10.5,26.8,28.4),(10.5,23.9,25.6)]
P3_H = [(-12,-9.5,34.3),(-12,-9.5,27),(-12,-9.5,20.3),(-12,-9.5,13.25),(-12,-9.5,7),(-12,-9.5,2.25),(-9.5,-7,34.75),(-9.5,-7,28.3),(-9.5,-7,24),(-9.5,-7,20.8),(-9.5,-7,8.75),(-9.5,-7,5.5),(-9.5,-7,1.5),(-7,-4.5,37.55),(-7,-4.5,31.3),(-7,-4.5,26.5),(-7,-4.5,25),(-7,-4.5,11.7),(-7,-4.5,11.25),(-7,-4.5,10.45),(-7,-4.5,3.7),(-4.5,-2,34.5),(-4.5,-2,29.3),(-4.5,-3,27.75),(-4.5,-2,27),(-2,0.5,38),(-2,0.5,32.8),(-2,0.5,30.75),(-2,0.5,30.5),(0.5,3,35.5),(0.5,3,32.75),(3,5.5,37),(3,5.5,33.2),(5.5,8,36),(5.5,8,32),(8,10.5,36.5),(8,10.2,35.5),(8,10.5,33.5),(10.5,12,37.3),(3,8,23.25),(0.5,3,22),(3,5.5,25.75),(8,10,27.5),(5.5,8,20),(5.5,8,19.7),(10.5,12,24),(10.5,12,22),(3,5.5,17.5),(3,5.5,14.7),(5.5,8,13.75),(9.2,10.6,11.7),(9.2,10.6,11.25),(9.2,10.6,10.45),(1,5.5,10.5),(1,5.5,8.75),(3,5.5,5.5),(6,8,2.25),(9.2,11.5,5.5)]
P4_V = [(-9.5,0,40),(-7,21,40),(-4.5,23.8,40),(-2,25.6,40),(0.5,26,40),(3,26.3,40),(5.5,28.3,40),(8,28.8,39.3),(8,17,19),(8,7.25,9),(10.5,30.8,40),(10.5,19,21.4)]
P4_H = [(-12,-9.5,32.8),(-12,-9.5,25.6),(-12,-9.5,18.5),(-12,-9.5,11.75),(-12,-9.5,5.8),(-12,-9.5,1.55),(-9.5,-7,38),(-9.5,-7,31.3),(-9.5,-7,25.3),(-9.5,-7,20.6),(-9.5,-7,19.5),(-7,-4.5,33.8),(-7,-4.5,27.8),(-7,-4.5,23),(-4.5,-2,37.3),(-4.5,-2,31),(-4.5,-2,25.85),(-4.5,-2,23.8),(-2,0.5,35.85),(-2,0.5,30),(-2,0.5,25.6),(-2,-1,25.3),(0.5,3,33.8),(0.5,3,28.8),(0.5,3,26),(3,5.5,37.3),(3,5.5,31.85),(3,5.5,28.3),(5.5,8,33.3),(5.5,8,28.6),(8,10.5,34.8),(8,10.5,30),(8,10.5,28.8),(10.5,12,32.8),(10.5,12,30.8),(10.5,11.9,23.8),(10.5,12,19),(5.5,8,17),(3.5,8,7.25),(8,10.5,18),(9.3,10.5,15),(10.5,11.9,12.8),(9.3,10.5,12.5),(9.3,10.5,10.5),(9.3,10.5,9.5),(9.3,10.5,8),(3.5,5,10.9),(2,3,2.5)]
MESH = [(P1_V,P1_H),(P2_V,P2_H),(P3_V,P3_H),(P4_V,P4_H)]

# contour labels: (text, x, z, angle)
P1_LBL = [("21",8.55,38.4,90),("21",7.8,38.05,-45),("25",10.7,38.35,60),("25",6.3,34.4,20),("21",1.25,34.55,-75),("21",2.05,34.7,-80),("21",0.2,33.8,-90),("21",1.35,32.65,-80),("35",3.65,33.05,0),("35",6.1,30.5,-40),("25",6.65,29.25,25),("25",0.1,29.4,-65),("21",-2.1,28.2,60),("25",11.6,26.6,75),("21",7.9,25.9,40),("25",9.35,25.4,-40),("25",9.5,23.3,50),("35",3.1,24,10),("25",3.7,23.7,-70),("21",-0.95,23.55,50),("21",1.35,19.95,10),("21",-4.05,18.45,70),("25",-4.9,16.75,-30),("35",-3.9,16.55,-60),("21",-6.65,15.85,50),("25",-7.4,14.6,-60),("50",1.3,14.35,-60),("35",1.45,12.05,-90),("25",1.6,10.85,-85),("50",-5.55,11.1,75),("21",1.8,7.6,60),("21",1.55,6.6,60),("200",-1.45,7.9,70),("200",-1.7,6.9,-70),("35",-2.45,6.9,-70),("21",-3.9,4.6,90),("25",-3,4.6,90),("100",0.15,4.4,-80),("50",0.95,3.9,90),("100",-1.5,2.2,80),("300",-0.95,1.9,80),("50",-1.3,0.65,90)]
P2_LBL = [("21",3,34.9,50),("35",1.65,29.1,-65),("21",-1.25,24.25,55),("21",0,24.35,-35),("21",-6.2,21.15,-85),("35",-5,20.6,-70),("21",-6.05,19.8,-85),("21",4.95,17.3,-45),("21",6.65,16.2,-30),("21",7.3,16.2,-50),("21",5.8,15.6,-85),("50",-1.5,15.35,90),("35",-0.4,15.6,90),("21",0.2,15.6,90),("21",-6.85,13.1,-50),("35",-5.3,12.15,85),("50",-4.6,11.8,85),("21",0.2,11.55,-70),("21",9.15,11.9,-90),("21",0.75,9.4,-90),("21",-3.85,6.9,-85),("100",-0.75,6.35,85),("21",6.65,4.4,-85),("21",-4.9,3.8,15),("200",-1.95,3.45,-75),("21",2.3,3.4,-85),("21",1.6,2.5,-40),("35",1,1.5,75),("21",8.35,1.35,50),("100",-1.75,0.65,80),("300",-0.4,0.65,85),("50",1.15,0.55,85)]
P3_LBL = [("21",5.55,31.35,80),("35",5.1,30.25,30),("21",-2,28.9,-90),("21",11.35,29.7,-40),("35",5.3,28.6,55),("35",7.05,26.35,55),("21",-1.5,25.7,55),("35",7.3,25.1,75),("21",-2.95,24.1,70),("21",-6.85,23.8,0),("21",-6.2,23.4,-90),("21",11.7,22.7,60),("35",-4.05,16.35,70),("50",-0.5,15.45,-65),("21",-9.2,15.1,-90),("35",0.65,14.65,-50),("21",3.9,13.9,70),("35",0.9,13.55,25),("21",9.1,10.85,-90),("50",-3.55,10.85,-70),("21",4.9,9.3,-5),("50",-1.5,8.6,-85),("21",-5.2,7.65,-75),("21",1,6.1,80),("100",-1.8,5.3,-75),("21",-9,5.1,-90),("21",0.7,4.9,-90),("35",-0.85,4.6,-80),("35",-2.45,4.1,-90),("200",-0.2,2.9,-90),("21",5.4,2.15,10),("21",-4.3,0.65,60)]
P4_LBL = [("21",5.2,27.7,-90),("21",4.05,27.15,85),("21",10.4,27.9,-50),("22",4.7,26.35,-45),("25",7.65,26.4,10),("30",7.75,25.65,70),("35",5.8,24.9,45),("21",-3.45,22.9,55),("25",-4.9,22.25,-50),("30",-4.05,22.25,0),("35",0.35,22.15,70),("30",3.95,21.7,40),("22",-6.35,20.4,-55),("22",1.5,19.45,-50),("25",3.05,18.8,-10),("21",11.1,17.85,0),("25",-7.6,16.95,-35),("30",-1.35,15.45,55),("30",-9.15,15.35,-90),("35",-5.75,15.3,-55),("25",-7,14.85,-60),("35",-4.4,14.9,-65),("22",5.1,14.35,55),("22",9.05,13.9,-90),("21",2.05,13.4,55),("21",-9.1,12.35,85),("35",1.2,11.4,80),("30",-5.4,11.4,55),("50",0.35,10.6,70),("25",1.5,10.35,-75),("22",2.35,10.15,75),("50",-3.35,9.9,-75),("22",-7.5,8.4,55),("100",-0.75,7.4,-85),("21",4.1,6.55,25),("200",-1.8,6.1,85),("21",-8.45,6.6,55),("22",6.1,5.6,65),("22",4.05,3.65,75),("21",9.15,3.65,-90),("100",-2.1,3.85,85),("35",-2.6,2.85,75),("25",-2.1,1.35,85),("30",1,1.4,80),("22",4.8,0.65,55),("30",-1.75,0.45,85)]
LABELS = [P1_LBL, P2_LBL, P3_LBL, P4_LBL]

CAPTIONS = ["2.8", "3.0", "3.5", "5.0"]
X_TICKS = [-12,-9,-6,-3,0,3,6,9,12]
Z_TICKS = [0,10,20,30,40]

# layout geometry in page pixels: left, right, top, bottom
BOX = [(76,433,16,613.3),(520.3,880.3,17.3,613.3),(74.3,430.7,746,1340),(514.5,872.5,745.7,1341.7)]
CAP_POS = [(250,693),(699,696),(248,1420),(696,1421)]
XT_POS = [(252,655),(699,656),(250,1384),(692,1385)]
ZT_POS = [(17,315),(462,315),(17,1043),(457,1043)]

def px(x): return x/W
def py(y): return 1-y/H

def ext(p):
    x, z = p
    return (x+0.6 if x >= 12 else x, -0.6 if z <= 0 else (z+0.6 if z >= 40 else z))

fig = go.Figure()
ann, shapes = [], []
TXT = "Liberation Serif"
for i, (l, r, t, b) in enumerate(BOX):
    n = "" if i == 0 else str(i+1)
    xa, ya = f"x{n}", f"y{n}"
    for color, polys in LAYERS[i]:
        for poly in polys:
            pts = [ext(p) for p in poly] + [ext(poly[0])]
            fig.add_trace(go.Scatter(x=[p[0] for p in pts], y=[p[1] for p in pts], xaxis=xa, yaxis=ya,
                mode="lines", fill="toself", fillcolor=color, hoverinfo="skip", showlegend=False,
                line=dict(color=LINE, width=1, shape="spline", smoothing=0.9)))
    mx, mz = [], []
    V, Hz = MESH[i]
    for x, z0, z1 in V: mx += [x, x, None]; mz += [z0, z1, None]
    for x0, x1, z in Hz: mx += [x0, x1, None]; mz += [z, z, None]
    fig.add_trace(go.Scatter(x=mx, y=mz, xaxis=xa, yaxis=ya, mode="lines", hoverinfo="skip", showlegend=False,
        line=dict(color="rgba(225,225,255,0.72)", width=1)))
    fig.update_layout(**{
        f"xaxis{n}": dict(domain=[px(l),px(r)], range=[-12,12], anchor=ya, tickmode="array", tickvals=X_TICKS, automargin=False,
            ticks="inside", ticklen=16, tickwidth=2.2, tickcolor="black", showgrid=False, zeroline=False,
            showline=False, tickfont=dict(family=TXT,size=25,color="#111"),
            minor=dict(dtick=1,ticks="inside",ticklen=8,tickwidth=1,tickcolor="black",showgrid=False)),
        f"yaxis{n}": dict(domain=[py(b),py(t)], range=[0,40], anchor=xa, tickmode="array", tickvals=Z_TICKS, automargin=False,
            ticks="inside", ticklen=16, tickwidth=2.2, tickcolor="black", showgrid=False, zeroline=False,
            showline=False, tickfont=dict(family=TXT,size=25,color="#111"),
            minor=dict(dtick=2,ticks="inside",ticklen=8,tickwidth=1,tickcolor="black",showgrid=False)),
    })
    xref, yref = f"{xa} domain", f"{ya} domain"
    shapes += [
        dict(type="line", xref=xref, yref=yref, x0=0, x1=1, y0=1, y1=1, line=dict(color="#555", width=1)),
        dict(type="line", xref=xref, yref=yref, x0=1, x1=1, y0=0, y1=1, line=dict(color="#555", width=1)),
        dict(type="line", xref=xref, yref=yref, x0=0, x1=0, y0=0, y1=1, line=dict(color="black", width=2)),
        dict(type="line", xref=xref, yref=yref, x0=0, x1=1, y0=0, y1=0, line=dict(color="black", width=3)),
    ]
    for txt, x, z, ang in LABELS[i]:
        ann.append(dict(text=txt, x=x, y=z, xref=xa, yref=ya, textangle=ang, showarrow=False,
            font=dict(family="Liberation Sans", size=11, color="#111"), bgcolor="white", borderpad=0))
    ann.append(dict(text=f"<i>u</i> = {CAPTIONS[i]} m/s", x=px(CAP_POS[i][0]), y=py(CAP_POS[i][1]), xref="paper", yref="paper",
        showarrow=False, font=dict(family=TXT, size=24, color="#111")))
    ann.append(dict(text="<b>x</b>", x=px(XT_POS[i][0]), y=py(XT_POS[i][1]), xref="paper", yref="paper",
        showarrow=False, font=dict(family=TXT, size=24, color="#111")))
    ann.append(dict(text="<b>z</b>", x=px(ZT_POS[i][0]), y=py(ZT_POS[i][1]), xref="paper", yref="paper", textangle=-90,
        showarrow=False, font=dict(family=TXT, size=24, color="#111")))

# the reference page is cropped just right of the second panel
shapes.append(dict(type="rect", xref="paper", yref="paper", x0=px(881.5), x1=1, y0=py(720), y1=1,
    fillcolor="white", line=dict(width=0), layer="above"))

fig.update_layout(width=W, height=H, margin=dict(l=0,r=0,t=0,b=0), paper_bgcolor="white",
    plot_bgcolor=BLUE, annotations=ann, shapes=shapes, showlegend=False)
fig.write_html("out.html", post_script="document.body.style.margin='0';", config={"displayModeBar":False})
